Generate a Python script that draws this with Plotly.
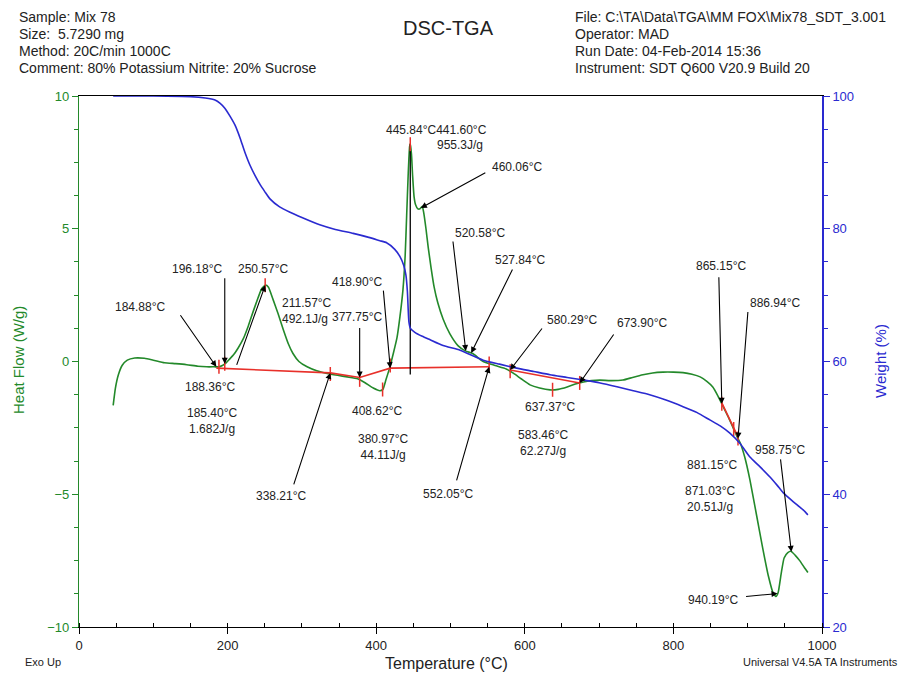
import numpy as np
import plotly.graph_objects as go

# ---------------- data ----------------
dsc_T = [46, 49, 53, 58, 65, 75, 88, 100, 115, 130, 145, 160, 172, 182, 188, 193, 198, 203, 208,
         214, 221, 228, 234, 241, 246, 251, 255, 261, 268, 275, 282, 288, 296, 307, 320, 334, 348,
         361, 375, 385, 396, 405, 409, 413, 418, 423, 428, 432, 436, 439, 441, 443, 445, 446, 447.5,
         449, 451, 453, 456, 459, 462, 464, 467, 470, 474, 478, 483, 490, 499, 510, 520, 530, 544,
         560, 575, 585, 595, 607, 620, 634, 645, 657, 668, 679, 690, 701, 715, 732, 745, 759, 772,
         786, 800, 813, 825, 836, 845, 853, 860, 867, 874, 880, 886, 890, 896, 903, 912, 920, 928,
         934, 938, 941, 945, 949, 954, 958, 964, 970, 976, 981]
dsc_HF = [-1.65, -1.0, -0.5, -0.15, 0.05, 0.13, 0.12, 0.05, -0.05, -0.08, -0.12, -0.18, -0.2, -0.2,
          -0.2, -0.15, -0.05, 0.1, 0.25, 0.5, 0.85, 1.35, 1.85, 2.4, 2.75, 2.88, 2.8, 2.35, 1.8, 1.2,
          0.65, 0.3, 0.0, -0.2, -0.35, -0.45, -0.52, -0.58, -0.65, -0.8, -1.0, -1.1, -1.05, -0.7,
          -0.25, 0.3, 0.9, 1.7, 2.7, 4.0, 5.5, 7.0, 8.1, 8.2, 7.8, 7.0, 6.2, 5.9, 5.75, 5.75, 5.85,
          5.6, 5.0, 4.3, 3.5, 2.8, 2.2, 1.6, 1.05, 0.6, 0.4, 0.3, 0.0, -0.15, -0.28, -0.45, -0.65,
          -0.88, -1.0, -1.07, -1.05, -0.96, -0.85, -0.77, -0.72, -0.7, -0.72, -0.7, -0.6, -0.5,
          -0.43, -0.4, -0.4, -0.42, -0.48, -0.58, -0.75, -0.96, -1.3, -1.7, -2.1, -2.47, -2.85,
          -3.07, -3.6, -4.46, -5.8, -7.0, -8.1, -8.7, -8.85, -8.7, -8.0, -7.4, -7.2, -7.15, -7.3,
          -7.5, -7.75, -7.95]

tga_T = [46, 100, 150, 170, 183, 190, 196, 203, 210, 217, 223, 230, 237, 244, 250, 257, 270, 284,
         300, 324, 345, 369, 390, 405, 414, 425, 432, 437, 440, 442, 443, 444, 446, 452, 462, 472,
         490, 513, 544, 566, 589, 612, 634, 657, 679, 700, 724, 746, 768, 790, 813, 832, 849, 863,
         876, 890, 903, 916, 930, 940, 948, 960, 975, 981]
tga_W = [100, 100, 99.9, 99.7, 99.4, 98.9, 98.2, 97.0, 95.6, 93.6, 91.6, 89.6, 88.0, 86.6, 85.6,
         84.5, 83.3, 82.5, 81.7, 80.6, 79.9, 79.3, 78.7, 78.2, 77.9, 76.9, 75.8, 74.5, 73.0, 70.5,
         68.0, 66.0, 65.0, 64.4, 63.8, 63.3, 62.4, 61.7, 60.2, 59.6, 59.0, 58.5, 58.0, 57.6, 57.2,
         56.8, 56.2, 55.6, 55.0, 54.2, 53.2, 52.3, 51.2, 50.3, 49.2, 47.6, 45.6, 44.2, 42.6, 41.3,
         40.2, 39.0, 37.6, 36.9]

# integration baselines (red)
base_T = [184.88, 338.21, 377.75, 418.90, 552.05, None, 580.29, 673.90, None, 865.15, 886.94]
base_HF = [-0.25, -0.43, -0.60, -0.25, -0.20, None, -0.32, -0.81, None, -1.56, -2.84]

# event markers (red ticks on the DSC curve)
tick_T = [188.36, 196.18, 250.57, 338.21, 377.75, 408.62, 418.90, 445.84, 552.05, 580.29,
          637.37, 673.90, 865.15, 881.15, 886.94]

# arrow-labelled events: text, temperature, curve it points to
arrow_text = ["184.88°C", "196.18°C", "250.57°C", "377.75°C", "418.90°C", "338.21°C",
              "460.06°C", "520.58°C", "527.84°C", "552.05°C", "580.29°C", "673.90°C",
              "865.15°C", "886.94°C", "958.75°C", "940.19°C"]
arrow_T = [184.88, 196.18, 250.57, 377.75, 418.90, 338.21, 460.06, 520.58, 527.84, 552.05,
           580.29, 673.90, 865.15, 886.94, 958.75, 940.19]
arrow_on = ["dsc", "dsc", "dsc", "base", "base", "base", "dsc", "dsc", "dsc", "base", "base",
            "base", "dsc", "dsc", "dsc", "dsc"]

# free-standing result labels
result_text = ["211.57°C<br>492.1J/g", "188.36°C", "185.40°C<br>1.682J/g", "408.62°C",
               "380.97°C<br>44.11J/g", "445.84°C441.60°C", "955.3J/g", "637.37°C",
               "583.46°C<br>62.27J/g", "881.15°C", "871.03°C<br>20.51J/g"]

peak_T = 445.84

# ---------------- layout helpers (pixel geometry) ----------------
W, H = 902, 675
ML, MR, MT, MB = 79, 80, 96, 48
X0, X1 = ML, W - MR
Y0, Y1 = MT, H - MB


def px_to_x(px):
    return (px - X0) / (X1 - X0) * 1000.0


def py_to_y(py):
    return 10 - (py - Y0) / (Y1 - Y0) * 20.0


def px_paper(px):
    return (px - X0) / (X1 - X0)


def py_paper(py):
    return (Y1 - py) / (Y1 - Y0)


def base_interp(t):
    segs, cur_t, cur_h = [], [], []
    for a, b in zip(base_T, base_HF):
        if a is None:
            segs.append((cur_t, cur_h)); cur_t, cur_h = [], []
        else:
            cur_t.append(a); cur_h.append(b)
    segs.append((cur_t, cur_h))
    for st, sh in segs:
        if st[0] - 1e-6 <= t <= st[-1] + 1e-6:
            return float(np.interp(t, st, sh))
    return float(np.interp(t, dsc_T, dsc_HF))


GREEN = "#23892a"
BLUE = "#2a2ad0"
RED = "#e8302a"
FONT = "Liberation Sans, Arial, sans-serif"

fig = go.Figure()

fig.add_trace(go.Scatter(x=tga_T, y=tga_W, mode="lines", yaxis="y2",
                         line=dict(color=BLUE, width=1.6, shape="spline", smoothing=0.5),
                         hoverinfo="skip", showlegend=False))
fig.add_trace(go.Scatter(x=dsc_T, y=dsc_HF, mode="lines",
                         line=dict(color=GREEN, width=1.6, shape="spline", smoothing=0.5),
                         hoverinfo="skip", showlegend=False))
fig.add_trace(go.Scatter(x=base_T, y=base_HF, mode="lines", connectgaps=False,
                         line=dict(color=RED, width=1.6), hoverinfo="skip", showlegend=False))
# black vertical line under the main peak
fig.add_trace(go.Scatter(x=[peak_T, peak_T], y=[float(np.max(dsc_HF)), base_interp(peak_T) - 0.25],
                         mode="lines", line=dict(color="black", width=1.3),
                         hoverinfo="skip", showlegend=False))
fig.add_trace(go.Scatter(x=tick_T, y=[float(np.interp(t, dsc_T, dsc_HF)) for t in tick_T],
                         mode="markers",
                         marker=dict(symbol="line-ns", size=10, line=dict(color=RED, width=1.5)),
                         hoverinfo="skip", showlegend=False))

# pixel offsets for arrow tails (relative to tips)
arrow_off = [(-37, -53), (0, -87), (-29, 81), (0, -51), (-7, -79), (-37, 113), (66, -36),
             (-13, -111), (42, -85), (-33, 115), (33, -43), (35, -50), (-3, -128), (10, -128),
             (-11, -94), (-33, 3)]
# label centres (pixels) for arrow labels
arrow_lab = [(140, 307), (197, 269), (263, 269), (357, 317), (357, 282), (281, 496), (517, 167),
             (480, 233), (520, 260), (448, 494), (572, 320), (642, 323), (721, 266), (775, 303),
             (780, 450), (713, 600)]

annotations = []
for txt, t, on, (ox, oy), (lx, ly) in zip(arrow_text, arrow_T, arrow_on, arrow_off, arrow_lab):
    hf = base_interp(t) if on == "base" else float(np.interp(t, dsc_T, dsc_HF))
    annotations.append(dict(x=t, y=hf, xref="x", yref="y", ax=ox, ay=oy, text="",
                            showarrow=True, arrowhead=2, arrowsize=1.1, arrowwidth=1.1,
                            arrowcolor="black", standoff=0))
    annotations.append(dict(x=px_to_x(lx), y=py_to_y(ly), xref="x", yref="y", text=txt,
                            showarrow=False, font=dict(family=FONT, size=12, color="#222")))

result_lab = [(280, 311, "left"), (210, 387, "center"), (212, 421, "center"),
              (377, 411, "center"), (383, 447, "center"), (436, 130, "center"),
              (460, 145, "center"), (550, 407, "center"), (543, 443, "center"),
              (712, 465, "center"), (710, 499, "center")]
for txt, (lx, ly, al) in zip(result_text, result_lab):
    annotations.append(dict(x=px_to_x(lx), y=py_to_y(ly), xref="x", yref="y", text=txt,
                            showarrow=False, xanchor=al, align=al,
                            font=dict(family=FONT, size=12, color="#222")))

# header / footer texts
hdr_left = ["Sample: Mix 78", "Size:  5.7290 mg", "Method: 20C/min 1000C",
            "Comment: 80% Potassium Nitrite: 20% Sucrose"]
hdr_right = ["File: C:\\TA\\Data\\TGA\\MM FOX\\Mix78_SDT_3.001", "Operator: MAD",
             "Run Date: 04-Feb-2014 15:36", "Instrument: SDT Q600 V20.9 Build 20"]
for i, (l, r) in enumerate(zip(hdr_left, hdr_right)):
    yy = py_paper(17 + i * 17)
    annotations.append(dict(x=px_paper(17), y=yy, xref="paper", yref="paper", text=l,
                            showarrow=False, xanchor="left", yanchor="middle",
                            font=dict(family=FONT, size=14, color="#222")))
    annotations.append(dict(x=px_paper(573), y=yy, xref="paper", yref="paper", text=r,
                            showarrow=False, xanchor="left", yanchor="middle",
                            font=dict(family=FONT, size=14, color="#222")))

annotations.append(dict(x=px_paper(448), y=py_paper(28), xref="paper", yref="paper",
                        text="DSC-TGA", showarrow=False, xanchor="center", yanchor="middle",
                        font=dict(family=FONT, size=20, color="#222")))
annotations.append(dict(x=px_paper(23), y=py_paper(662), xref="paper", yref="paper",
                        text="Exo Up", showarrow=False, xanchor="left", yanchor="middle",
                        font=dict(family=FONT, size=11, color="#222")))
annotations.append(dict(x=px_paper(446), y=py_paper(663), xref="paper", yref="paper",
                        text="Temperature (°C)", showarrow=False, xanchor="center",
                        yanchor="middle", font=dict(family=FONT, size=16, color="#222")))
annotations.append(dict(x=px_paper(900), y=py_paper(662), xref="paper", yref="paper",
                        text="Universal V4.5A TA Instruments", showarrow=False, xanchor="right",
                        yanchor="middle", font=dict(family=FONT, size=11, color="#222")))
annotations.append(dict(x=px_paper(18), y=py_paper(360), xref="paper", yref="paper",
                        text="Heat Flow (W/g)", showarrow=False, textangle=-90,
                        xanchor="center", yanchor="middle",
                        font=dict(family=FONT, size=15, color=GREEN)))
annotations.append(dict(x=px_paper(880), y=py_paper(361), xref="paper", yref="paper",
                        text="Weight (%)", showarrow=False, textangle=-90,
                        xanchor="center", yanchor="middle",
                        font=dict(family=FONT, size=15, color=BLUE)))

fig.update_layout(
    width=W, height=H,
    margin=dict(l=ML, r=MR, t=MT, b=MB, pad=0),
    paper_bgcolor="white", plot_bgcolor="white",
    showlegend=False,
    annotations=annotations,
    xaxis=dict(range=[0, 1000], tickvals=[0, 200, 400, 600, 800, 1000], ticks="outside",
               ticklen=6, tickcolor="black", showline=True, linecolor="black", linewidth=1.2,
               mirror=True, showgrid=False, zeroline=False,
               tickfont=dict(family=FONT, size=13, color="#222"),
               minor=dict(dtick=50, tick0=0, ticks="inside", ticklen=4, tickcolor="black",
                          showgrid=False)),
    yaxis=dict(range=[-10, 10], tickvals=[-10, -5, 0, 5, 10], ticks="outside", ticklen=6,
               tickcolor=GREEN, showline=True, linecolor=GREEN, linewidth=1.2, showgrid=False,
               zeroline=False, tickfont=dict(family=FONT, size=13, color=GREEN),
               minor=dict(dtick=1.25, tick0=0, ticks="outside", ticklen=4, tickcolor=GREEN,
                          showgrid=False)),
    yaxis2=dict(range=[20, 100], tickvals=[20, 40, 60, 80, 100], overlaying="y", side="right",
                ticks="outside", ticklen=6, tickcolor=BLUE, showline=True, linecolor=BLUE,
                linewidth=1.6, showgrid=False, zeroline=False,
                tickfont=dict(family=FONT, size=13, color=BLUE),
                minor=dict(dtick=5, tick0=0, ticks="outside", ticklen=4, tickcolor=BLUE,
                           showgrid=False)),
)

fig.write_html("out.html")
